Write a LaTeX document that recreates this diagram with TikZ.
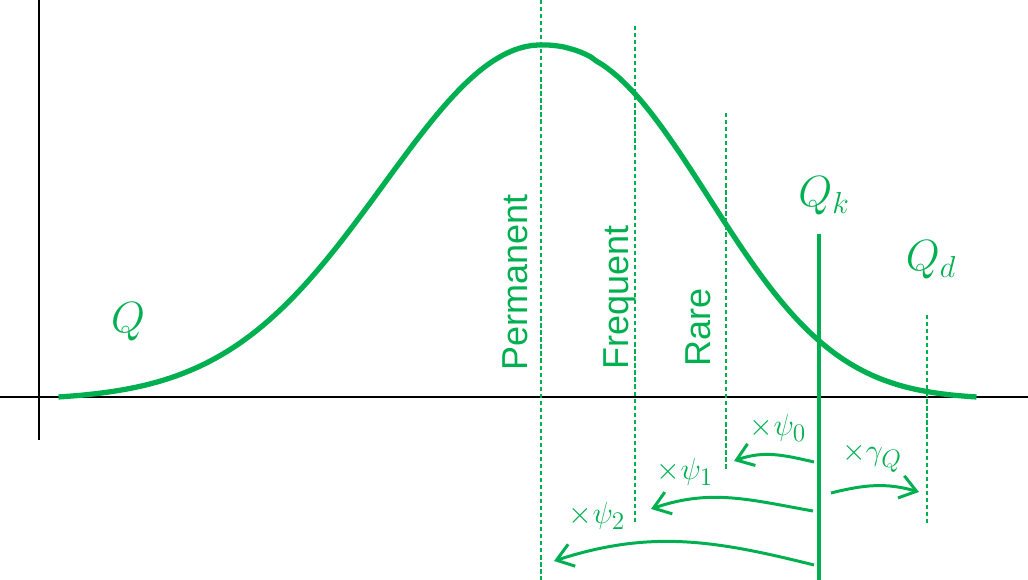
\documentclass[tikz,border=0pt]{standalone}
\usepackage{fontspec}
\setmainfont{Liberation Sans}
\usepackage{xcolor}
\usetikzlibrary{arrows.meta}

\definecolor{qgreen}{RGB}{0,176,80}

\begin{document}
\begin{tikzpicture}[
    x=0.2mm, y=0.2mm,
    axis/.style={line width=1.1pt, draw=black},
    bell/.style={line width=3pt, draw=qgreen},
    level/.style={line width=0.9pt, draw=qgreen, dash pattern=on 2.4pt off 1.6pt},
    charline/.style={line width=2pt, draw=qgreen},
    combi/.style={line width=1.7pt, draw=qgreen, -{Straight Barb[length=3.2mm, width=4.6mm]}},
    levellabel/.style={rotate=90, anchor=base west, inner sep=0pt, text=qgreen,
        font=\fontsize{20.5}{24}\selectfont},
    qlabel/.style={text=qgreen, inner sep=0pt, font=\fontsize{26}{30}\selectfont},
    factor/.style={text=qgreen, inner sep=0pt, font=\fontsize{19}{22}\selectfont}
]

% Frame
\useasboundingbox (0,0) rectangle (1028,580);

% Axes
\coordinate (yaxis-top) at (39,580);
\coordinate (yaxis-bot) at (39,140);
\coordinate (xaxis-l) at (0,183);
\coordinate (xaxis-r) at (1028,183);
\draw[axis] (yaxis-top) -- (yaxis-bot);
\draw[axis] (xaxis-l) -- (xaxis-r);

% Distribution of Q
\draw[bell] plot[domain=58.5:541, samples=80, smooth] (\x, {183+355.2*(exp(-4.7*((541-\x)/483)^2)-0.0091)})
    -- plot[domain=541.2:976.5, samples=80, smooth] (\x, {183+354.2*(exp(-5.07*((\x-541)/436)^2.3)-0.0063)});

% Levels
\coordinate (perm-top) at (541,580);
\coordinate (perm-bot) at (541,0);
\coordinate (freq-top) at (635,554);
\coordinate (freq-bot) at (635,57);
\coordinate (rare-top) at (726,467);
\coordinate (rare-bot) at (726,109);
\coordinate (qd-top) at (927,265);
\coordinate (qd-bot) at (927,57);
\draw[level] (perm-top) -- (perm-bot);
\draw[level] (freq-top) -- (freq-bot);
\draw[level] (rare-top) -- (rare-bot);
\draw[level] (qd-top) -- (qd-bot);

% Characteristic value
\coordinate (qk-top) at (819,346);
\coordinate (qk-bot) at (819,0);
\draw[charline] (qk-top) -- (qk-bot);

% Level labels
\node[levellabel] (perm) at (527,209) {Permanent};
\node[levellabel] (freq) at (628,210) {Frequent};
\node[levellabel] (rare) at (710,213) {Rare};

% Values
\node[qlabel] (q)  at (128,258) {$Q$};
\node[qlabel] (qk) at (824,384) {$Q_k$};
\node[qlabel] (qd) at (931,320) {$Q_d$};

% Factors
\node[factor] (psi0) at (778,152) {$\times\psi_0$};
\node[factor] (psi1) at (685,108) {$\times\psi_1$};
\node[factor] (psi2) at (597,64)  {$\times\psi_2$};
\node[factor] (gamq) at (872,122) {$\times\gamma_Q$};

\coordinate (psi0-s) at (814,118);
\coordinate (psi0-e) at (734,119);
\coordinate (psi1-s) at (813,69);
\coordinate (psi1-e) at (651,71);
\coordinate (psi2-s) at (814,15);
\coordinate (psi2-e) at (554,19);
\coordinate (gamq-s) at (831,87);
\coordinate (gamq-e) at (919,88);

\draw[combi] (psi0-s) to[out=167, in=20] (psi0-e);
\draw[combi] (psi1-s) to[out=170, in=19] (psi1-e);
\draw[combi] (psi2-s) to[out=166, in=18] (psi2-e);
\draw[combi] (gamq-s) to[out=14, in=164] (gamq-e);

\end{tikzpicture}
\end{document}
